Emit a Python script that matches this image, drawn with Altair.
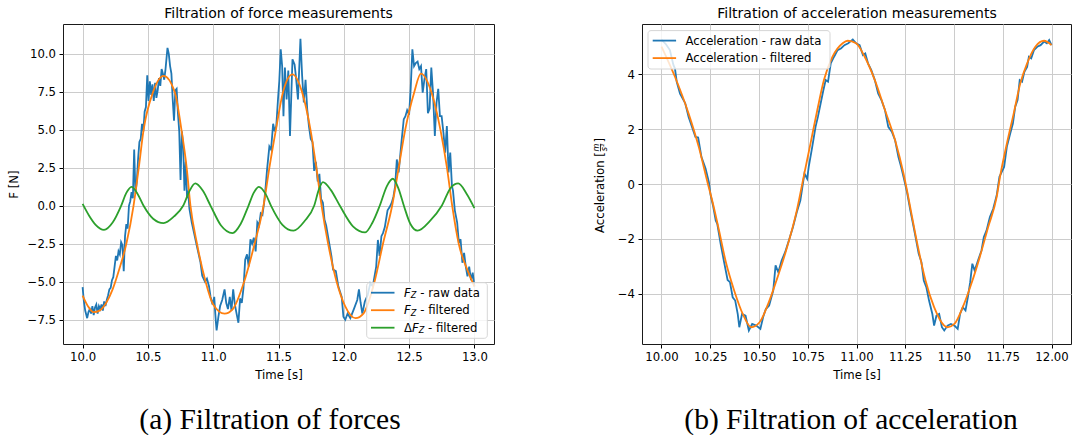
import altair as alt
import pandas as pd

FONT = "DejaVu Sans"
SERIF = "Liberation Serif"
BLUE, ORANGE, GREEN = "#1f77b4", "#ff7f0e", "#2ca02c"
FS = 11.7

# ---- force measurements: (time [s], F_Z [N]) ----
force_raw = [
    (10.000, -5.35), (10.010, -6.3), (10.020, -6.9), (10.035, -7.4), (10.045, -7.0), (10.055, -6.8),
    (10.065, -7.1), (10.075, -6.6), (10.085, -7.2), (10.095, -6.7), (10.105, -6.5), (10.115, -7.1),
    (10.125, -6.6), (10.135, -6.8), (10.145, -6.5), (10.155, -6.9), (10.165, -6.3), (10.175, -6.6),
    (10.185, -6.2), (10.195, -5.9), (10.205, -5.5), (10.215, -5.4), (10.225, -4.9), (10.235, -4.7),
    (10.245, -4.0), (10.255, -3.3), (10.265, -3.6), (10.275, -3.0), (10.285, -3.2), (10.295, -2.4),
    (10.305, -2.6), (10.315, -4.3), (10.325, -2.0), (10.335, -1.2), (10.345, -1.5), (10.355, 0.0),
    (10.365, 0.3), (10.375, 0.9), (10.385, 0.5), (10.395, 3.7), (10.405, 0.8), (10.415, 1.6),
    (10.425, 3.1), (10.435, 4.2), (10.445, 4.4), (10.455, 5.4), (10.465, 4.9), (10.475, 6.2),
    (10.485, 6.5), (10.495, 8.6), (10.505, 6.9), (10.515, 8.2), (10.525, 7.3), (10.535, 8.0),
    (10.545, 6.9), (10.555, 8.1), (10.565, 7.1), (10.575, 7.6), (10.585, 8.4), (10.595, 7.9),
    (10.605, 9.0), (10.615, 8.7), (10.625, 8.3), (10.635, 9.0), (10.650, 10.4), (10.660, 10.0),
    (10.670, 9.2), (10.680, 8.7), (10.690, 7.0), (10.700, 5.6), (10.710, 7.6), (10.720, 7.7),
    (10.730, 6.1), (10.740, 4.9), (10.750, 1.7), (10.760, 4.9), (10.770, 4.0), (10.780, 1.0),
    (10.790, 2.9), (10.800, 0.5), (10.808, 1.0), (10.818, -0.2), (10.836, -1.1), (10.856, -1.9),
    (10.876, -2.7), (10.902, -3.7), (10.916, -4.6), (10.937, -5.0), (10.952, -4.8), (10.968, -5.3),
    (10.980, -6.0), (10.995, -6.5), (11.008, -6.0), (11.016, -7.1), (11.021, -7.7), (11.026, -8.2),
    (11.040, -7.3), (11.053, -6.6), (11.069, -6.2), (11.087, -5.5), (11.100, -6.4), (11.113, -6.8),
    (11.127, -6.0), (11.140, -6.9), (11.153, -5.5), (11.166, -6.5), (11.179, -7.1), (11.193, -7.7),
    (11.206, -6.1), (11.219, -6.4), (11.232, -5.4), (11.245, -3.55), (11.259, -3.2), (11.272, -4.0),
    (11.285, -2.2), (11.298, -2.5), (11.311, -2.1), (11.325, -3.0), (11.338, -1.1), (11.351, -1.3),
    (11.364, -0.5), (11.377, -0.6), (11.390, 0.2), (11.401, 1.2), (11.412, 2.35), (11.430, 3.9),
    (11.443, 3.7), (11.459, 5.4), (11.471, 4.9), (11.483, 5.25), (11.496, 7.0), (11.506, 8.2),
    (11.517, 10.3), (11.528, 9.2), (11.538, 5.9), (11.549, 9.1), (11.562, 7.0), (11.575, 8.9),
    (11.588, 4.6), (11.607, 9.65), (11.623, 9.3), (11.633, 8.55), (11.649, 7.0), (11.668, 11.0),
    (11.681, 8.55), (11.694, 6.8), (11.707, 8.3), (11.720, 6.35), (11.733, 5.25), (11.747, 4.4),
    (11.760, 4.2), (11.773, 2.3), (11.786, 2.9), (11.800, 1.6), (11.813, 2.1), (11.826, 0.45),
    (11.840, 0.2), (11.852, -0.9), (11.865, -1.3), (11.879, -2.0), (11.905, -3.3), (11.918, -4.2),
    (11.939, -4.3), (11.958, -5.3), (11.984, -6.0), (11.997, -7.3), (12.011, -7.5), (12.029, -7.1),
    (12.050, -7.4), (12.077, -6.8), (12.103, -6.2), (12.116, -5.5), (12.129, -6.4), (12.142, -7.1),
    (12.161, -6.3), (12.182, -5.9), (12.203, -5.1), (12.222, -5.3), (12.248, -4.0), (12.261, -2.25),
    (12.274, -3.3), (12.288, -2.0), (12.300, -1.8), (12.314, -1.4), (12.335, -0.3), (12.350, -0.1),
    (12.367, 0.2), (12.380, 0.6), (12.393, 1.3), (12.406, 3.05), (12.420, 2.2), (12.441, 4.15),
    (12.459, 5.7), (12.472, 5.9), (12.485, 6.3), (12.500, 6.0), (12.512, 7.7), (12.525, 10.3),
    (12.538, 9.2), (12.551, 9.4), (12.565, 9.5), (12.578, 9.0), (12.591, 9.2), (12.604, 7.45),
    (12.617, 8.3), (12.631, 9.0), (12.644, 6.1), (12.657, 6.4), (12.670, 9.1), (12.683, 7.45),
    (12.697, 4.6), (12.710, 6.8), (12.723, 7.7), (12.736, 5.9), (12.749, 5.9), (12.763, 4.8),
    (12.776, 3.5), (12.789, 5.25), (12.802, 2.2), (12.815, 3.5), (12.828, 1.3), (12.836, 1.0),
    (12.850, -0.3), (12.868, -1.1), (12.881, -2.45), (12.894, -2.2), (12.908, -3.75), (12.921, -3.1),
    (12.934, -4.0), (12.947, -4.65), (12.960, -4.0), (12.974, -4.9), (12.987, -4.4), (13.000, -5.3),
]

force_filtered = [
    (10.00, -5.92), (10.04, -6.6), (10.085, -7.0), (10.13, -6.9), (10.18, -6.4), (10.23, -5.5),
    (10.28, -4.2), (10.335, -2.5), (10.39, 0.0), (10.43, 2.5), (10.467, 5.0), (10.54, 7.5),
    (10.62, 8.55), (10.705, 7.5), (10.757, 5.0), (10.797, 2.5), (10.826, 0.0), (10.876, -2.5),
    (10.942, -5.0), (11.00, -6.5), (11.087, -7.1), (11.15, -6.8), (11.237, -5.0), (11.317, -2.5),
    (11.385, 0.0), (11.43, 2.5), (11.48, 5.0), (11.535, 7.5), (11.607, 8.65), (11.68, 7.5),
    (11.745, 5.0), (11.79, 2.5), (11.83, 0.0), (11.88, -2.5), (11.945, -5.0), (12.01, -6.6),
    (12.09, -7.4), (12.15, -7.1), (12.235, -5.0), (12.30, -2.5), (12.37, 0.0), (12.42, 2.5),
    (12.47, 5.0), (12.54, 7.5), (12.59, 8.7), (12.67, 7.5), (12.74, 5.0), (12.79, 2.5),
    (12.83, 0.0), (12.88, -2.5), (12.95, -4.3), (13.00, -5.3),
]

delta_force_filtered = [
    (10.00, 0.13), (10.05, -0.65), (10.10, -1.25), (10.164, -1.58), (10.23, -1.1), (10.295, 0.0),
    (10.335, 0.85), (10.375, 1.25), (10.42, 0.8), (10.467, 0.0), (10.54, -0.85), (10.62, -1.14),
    (10.70, -0.7), (10.77, 0.0), (10.82, 1.0), (10.863, 1.47), (10.92, 1.0), (10.98, 0.0),
    (11.06, -1.3), (11.148, -1.8), (11.21, -1.2), (11.27, 0.0), (11.31, 0.85), (11.35, 1.25),
    (11.40, 0.8), (11.443, 0.0), (11.53, -1.25), (11.615, -1.64), (11.70, -1.0), (11.773, 0.0),
    (11.81, 1.1), (11.84, 1.56), (11.90, 1.05), (11.97, 0.0), (12.07, -1.35), (12.164, -1.75),
    (12.22, -1.1), (12.275, 0.0), (12.33, 1.3), (12.375, 1.78), (12.42, 1.1), (12.46, 0.0),
    (12.51, -1.2), (12.565, -1.64), (12.66, -1.0), (12.75, 0.0), (12.82, 1.2), (12.876, 1.47),
    (12.94, 0.8), (13.00, -0.15),
]

# ---- acceleration measurements: (time [s], a [m/s^2]) ----
accel_raw = [
    (10.000, 5.24), (10.021, 5.1), (10.043, 4.87), (10.061, 4.33), (10.069, 4.2), (10.078, 3.72),
    (10.095, 3.29), (10.113, 3.05), (10.122, 2.93), (10.139, 2.44), (10.156, 2.08), (10.174, 1.71),
    (10.188, 1.69), (10.205, 0.98), (10.226, 0.56), (10.243, 0.07), (10.252, -0.41), (10.264, -0.78),
    (10.278, -1.33), (10.286, -1.45), (10.304, -2.2), (10.321, -2.84), (10.339, -3.49), (10.351, -3.57),
    (10.365, -4.12), (10.378, -4.24), (10.391, -4.73), (10.399, -5.21), (10.413, -4.73), (10.431, -4.79),
    (10.448, -5.33), (10.465, -5.09), (10.486, -5.15), (10.507, -5.27), (10.521, -4.85), (10.535, -4.55),
    (10.552, -4.42), (10.573, -3.88), (10.585, -2.96), (10.599, -3.21), (10.616, -2.78), (10.634, -2.48),
    (10.656, -1.99), (10.674, -1.57), (10.694, -1.02), (10.712, -0.6), (10.720, -0.23), (10.733, 0.38),
    (10.747, 0.19), (10.755, 0.62), (10.773, 1.35), (10.790, 2.08), (10.802, 2.44), (10.816, 2.93),
    (10.830, 3.41), (10.842, 3.78), (10.854, 3.72), (10.868, 4.39), (10.885, 4.63), (10.903, 4.87),
    (10.920, 4.93), (10.938, 5.05), (10.958, 5.12), (10.981, 5.26), (10.998, 5.12), (11.016, 5.05),
    (11.033, 4.69), (11.045, 4.75), (11.059, 4.39), (11.076, 4.14), (11.094, 3.78), (11.111, 3.29),
    (11.128, 3.05), (11.146, 2.69), (11.163, 2.08), (11.181, 1.9), (11.198, 1.59), (11.215, 0.98),
    (11.229, 0.62), (11.241, 0.26), (11.259, -0.29), (11.276, -0.96), (11.293, -1.57), (11.306, -2.05),
    (11.319, -2.54), (11.333, -2.84), (11.345, -3.51), (11.358, -3.75), (11.372, -4.24), (11.389, -4.73),
    (11.398, -5.15), (11.410, -4.79), (11.424, -4.73), (11.438, -5.21), (11.450, -5.33), (11.467, -5.15),
    (11.484, -5.09), (11.502, -5.15), (11.519, -5.27), (11.531, -4.73), (11.545, -4.48), (11.559, -4.6),
    (11.571, -4.12), (11.583, -3.57), (11.594, -2.9), (11.606, -3.15), (11.623, -2.78), (11.641, -2.42),
    (11.653, -1.93), (11.667, -1.69), (11.684, -1.2), (11.701, -0.9), (11.719, -0.41), (11.733, 0.26),
    (11.745, 0.44), (11.757, 0.62), (11.771, 1.35), (11.788, 1.83), (11.802, 2.2), (11.814, 2.81),
    (11.826, 3.05), (11.837, 3.78), (11.849, 3.72), (11.861, 4.08), (11.875, 4.26), (11.884, 4.63),
    (11.896, 4.57), (11.910, 4.87), (11.927, 4.99), (11.944, 5.05), (11.962, 5.18), (11.976, 5.12),
    (11.988, 5.24), (12.000, 5.05),
]

accel_filtered = [
    (10.00, 5.0), (10.069, 3.9), (10.139, 2.56), (10.191, 1.35), (10.238, 0.0), (10.26, -0.6),
    (10.295, -1.69), (10.33, -2.84), (10.373, -3.88), (10.417, -4.73), (10.46, -5.21), (10.503, -5.03),
    (10.547, -4.36), (10.59, -3.5), (10.634, -2.54), (10.694, -0.96), (10.729, 0.26), (10.764, 1.47),
    (10.799, 2.69), (10.833, 3.78), (10.877, 4.63), (10.929, 5.12), (10.955, 5.21), (10.998, 5.12),
    (11.042, 4.63), (11.094, 3.78), (11.146, 2.69), (11.198, 1.59), (11.241, 0.38), (11.259, -0.23),
    (11.285, -1.2), (11.319, -2.42), (11.354, -3.51), (11.398, -4.48), (11.45, -5.15), (11.467, -5.21),
    (11.502, -5.09), (11.545, -4.48), (11.589, -3.63), (11.632, -2.66), (11.675, -1.57), (11.719, -0.47),
    (11.736, 0.26), (11.771, 1.47), (11.806, 2.56), (11.84, 3.66), (11.875, 4.39), (11.918, 5.0),
    (11.962, 5.21), (12.0, 5.05),
]

force_x_ticks = [10.0, 10.5, 11.0, 11.5, 12.0, 12.5, 13.0]
force_y_ticks = [-7.5, -5.0, -2.5, 0.0, 2.5, 5.0, 7.5, 10.0]
accel_x_ticks = [10.0, 10.25, 10.5, 10.75, 11.0, 11.25, 11.5, 11.75, 12.0]
accel_y_ticks = [-4, -2, 0, 2, 4]

W_LEFT, W_RIGHT, HEIGHT = 431, 429, 320


def frame(pairs):
    return pd.DataFrame(pairs, columns=["t", "v"])


def one_row():
    return pd.DataFrame({"k": [0]})


def txt(s, x, y, size=FS, align="left", baseline="middle", font=FONT, style="normal", angle=0):
    return alt.Chart(one_row()).mark_text(
        align=align, baseline=baseline, font=font, fontSize=size, fontStyle=style,
        color="black", angle=angle,
    ).encode(x=alt.value(x), y=alt.value(y), text=alt.value(s))


def swatch(color, x0, x1, y):
    return alt.Chart(one_row()).mark_rule(color=color, strokeWidth=1.8).encode(
        x=alt.value(x0), x2=alt.value(x1), y=alt.value(y))


def legend_box(x0, x1, y0, y1):
    return alt.Chart(one_row()).mark_rect(
        fill="white", fillOpacity=0.8, stroke="#d6d6d6", strokeWidth=1, cornerRadius=3,
    ).encode(x=alt.value(x0), x2=alt.value(x1), y=alt.value(y0), y2=alt.value(y1))


def lines(pairs, color, interp, x, y):
    return alt.Chart(frame(pairs)).mark_line(
        color=color, strokeWidth=1.8, interpolate=interp).encode(x=x, y=y)


def panel_title(s, width):
    # title centred over the plot area, baseline just above the frame
    return txt(s, width / 2, -6.5, size=14, align="center", baseline="alphabetic")


def x_axis(values, fmt):
    return alt.Axis(values=values, format=fmt, title="Time [s]",
                    titleY=34, titleBaseline="alphabetic", titleAlign="center")


# ---------------- left: forces ----------------
fx = alt.X("t:Q", scale=alt.Scale(domain=[9.85, 13.15], nice=False, zero=False),
           axis=x_axis(force_x_ticks, ".1f"))
fy = alt.Y("v:Q", scale=alt.Scale(domain=[-9.1, 11.97], nice=False, zero=False),
           axis=alt.Axis(values=force_y_ticks, format=".1f", title="F [N]",
                         titleAngle=270, titleX=-46, titleY=HEIGHT / 2,
                         titleAlign="center", titleBaseline="alphabetic"))

left = alt.layer(
    lines(force_raw, BLUE, "linear", fx, fy),
    lines(force_filtered, ORANGE, "monotone", fx, fy),
    lines(delta_force_filtered, GREEN, "monotone", fx, fy),
    legend_box(303.7, 424.3, 258.7, 314.3),
    swatch(BLUE, 308, 331.5, 268.7),
    swatch(ORANGE, 308, 331.5, 286.2),
    swatch(GREEN, 308, 331.5, 303.7),
    txt("F", 341, 268.7, style="italic"),
    txt("Z", 347.7, 272.2, size=8.2, style="italic"),
    txt("- raw data", 357.3, 268.7),
    txt("F", 341, 286.2, style="italic"),
    txt("Z", 347.7, 289.7, size=8.2, style="italic"),
    txt("- filtered", 357.3, 286.2),
    txt("\u0394", 341, 303.7),
    txt("F", 349, 303.7, style="italic"),
    txt("Z", 355.7, 307.2, size=8.2, style="italic"),
    txt("- filtered", 365, 303.7),
    panel_title("Filtration of force measurements", W_LEFT),
    txt("(a) Filtration of forces", 207, 405, size=29.5, align="center",
        baseline="alphabetic", font=SERIF),
).properties(width=W_LEFT, height=HEIGHT)

# ---------------- right: acceleration ----------------
ax = alt.X("t:Q", scale=alt.Scale(domain=[9.9, 12.1], nice=False, zero=False),
           axis=x_axis(accel_x_ticks, ".2f"))
ay = alt.Y("v:Q", scale=alt.Scale(domain=[-5.82, 5.82], nice=False, zero=False),
           axis=alt.Axis(values=accel_y_ticks, format="d", title=None))

fraction_bar = alt.Chart(one_row()).mark_rule(color="black", strokeWidth=0.8).encode(
    x=alt.value(-41.5), y=alt.value(119.8), y2=alt.value(127.3))

right = alt.layer(
    lines(accel_raw, BLUE, "linear", ax, ay),
    lines(accel_filtered, ORANGE, "monotone", ax, ay),
    legend_box(6, 188, 6.6, 45),
    swatch(BLUE, 10.7, 34.1, 16.6),
    swatch(ORANGE, 10.7, 34.1, 34.1),
    txt("Acceleration - raw data", 43.5, 16.6),
    txt("Acceleration - filtered", 43.5, 34.1),
    # y-axis title: Acceleration [m / s^2]
    txt("Acceleration [", -38, 209, angle=270, baseline="alphabetic"),
    txt("m", -43, 123.5, size=8.2, style="italic", align="center", angle=270,
        baseline="alphabetic"),
    fraction_bar,
    txt("s\u00b2", -35.5, 123.5, size=8.2, style="italic", align="center", angle=270,
        baseline="alphabetic"),
    txt("]", -38, 118.6, angle=270, baseline="alphabetic"),
    panel_title("Filtration of acceleration measurements", 430),
    txt("(b) Filtration of acceleration", 209, 405, size=29.5, align="center",
        baseline="alphabetic", font=SERIF),
).properties(width=W_RIGHT, height=HEIGHT)

chart = alt.hconcat(left, right, spacing=148, bounds="flush").properties(
    padding={"left": 7, "top": 6, "right": 0, "bottom": 0},
).configure_view(
    stroke="#1a1a1a", strokeWidth=1,
).configure_axis(
    labelFont=FONT, labelFontSize=FS, labelColor="black", labelPadding=3.5,
    labelOverlap=False, labelFlush=False,
    titleFont=FONT, titleFontSize=FS, titleFontWeight="normal", titleColor="black",
    tickColor="black", tickSize=4, tickWidth=1, domain=False,
    grid=True, gridColor="#cccccc", gridWidth=1,
)

chart.save("out.html", embed_options={"renderer": "svg", "actions": False})
